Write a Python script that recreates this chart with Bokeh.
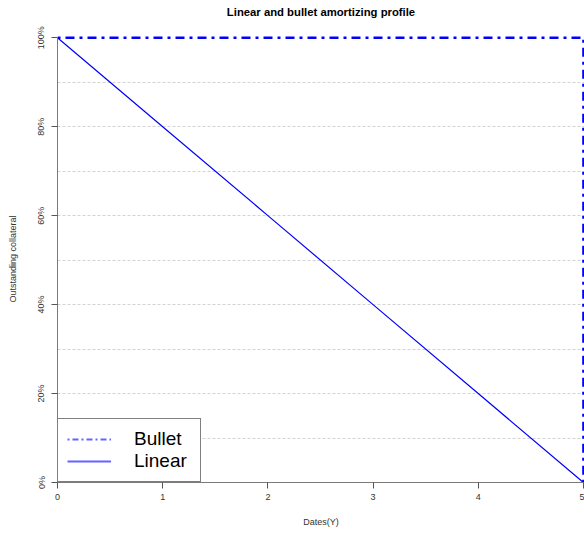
from bokeh.plotting import figure
from bokeh.models import (Range1d, FixedTicker, PrintfTickFormatter, Legend,
                          LegendItem, Title, ColumnDataSource)
from bokeh.embed import file_html
from bokeh.resources import INLINE

# Amortization schedules: outstanding collateral (%) by date (years)
dates = [0, 1, 2, 3, 4, 5]
linear = [100, 80, 60, 40, 20, 0]
bullet_dates = [0, 1, 2, 3, 4, 5, 5]
bullet = [100, 100, 100, 100, 100, 100, 0]
y_ticks = [0, 20, 40, 60, 80, 100]
grid_levels = [10, 20, 30, 40, 50, 60, 70, 80, 90]

FONT = "Liberation Sans"

p = figure(width=584, height=533, output_backend="svg", toolbar_location=None,
           x_range=Range1d(0, 5.01), y_range=Range1d(0, 100.5),
           min_border_left=57, min_border_right=0, min_border_top=35,
           min_border_bottom=51)
p.outline_line_color = None
p.background_fill_color = "white"
p.border_fill_color = "white"

# heading, plus a blank gap panel between it and the frame
p.title = Title(text="Linear and bullet amortizing profile", align="center",
                text_font=FONT, text_font_size="11.3px",
                text_font_style="bold", text_color="black", standoff=0)
p.add_layout(Title(text="\u00a0", text_font=FONT, text_font_size="14px",
                   standoff=0), "above")

# grid: dotted horizontal lines every 10%
p.xgrid.visible = False
p.ygrid.ticker = FixedTicker(ticks=grid_levels)
p.ygrid.grid_line_color = "#d3d3d3"
p.ygrid.grid_line_dash = "3 2"
p.ygrid.grid_line_width = 1

for ax in (p.xaxis[0], p.yaxis[0]):
    ax.axis_line_color = "#7a7a7a"
    ax.major_tick_line_color = "#555555"
    ax.minor_tick_line_color = None
    ax.major_tick_in = 0
    ax.major_tick_out = 6
    ax.major_label_text_font = FONT
    ax.major_label_text_font_size = "9px"
    ax.major_label_text_color = "#333333"
    ax.axis_label_text_font = FONT
    ax.axis_label_text_font_size = "9px"
    ax.axis_label_text_font_style = "normal"
    ax.axis_label_text_color = "#333333"
    ax.major_label_standoff = 5

p.xaxis.ticker = FixedTicker(ticks=dates)
p.xaxis.axis_label = "Dates(Y)"
p.xaxis.axis_label_standoff = 14

p.yaxis.ticker = FixedTicker(ticks=y_ticks)
p.yaxis.formatter = PrintfTickFormatter(format="%d%%")
p.yaxis.bounds = (0, 100)
p.yaxis.major_label_orientation = "vertical"
p.yaxis.axis_label = "Outstanding collateral"
p.yaxis.axis_label_standoff = 16

# schedules
p.line(bullet_dates, bullet, line_color="#0000ff", line_width=2.5,
       line_dash="3 5 9 5")
p.line(dates, linear, line_color="#0000ff", line_width=1.2)

# legend swatches (lighter tint, no data of their own)
nan = float("nan")
swatch = ColumnDataSource(data=dict(x=[nan], y=[nan]))
r_b = p.line("x", "y", source=swatch, line_color="#6464ff", line_width=2,
             line_dash="2 3 6 3")
r_l = p.line("x", "y", source=swatch, line_color="#6464ff", line_width=2)

legend = Legend(items=[LegendItem(label="Bullet", renderers=[r_b]),
                       LegendItem(label="Linear", renderers=[r_l])],
                location="bottom_left", margin=0, padding=9, spacing=-2,
                glyph_width=44, glyph_height=20, label_height=20,
                label_width=57, label_standoff=23,
                label_text_font=FONT, label_text_font_size="19px",
                label_text_color="black",
                border_line_color="black", border_line_width=1,
                background_fill_color="white", background_fill_alpha=1)
p.add_layout(legend)

open("out.html", "w").write(file_html(p, INLINE))
